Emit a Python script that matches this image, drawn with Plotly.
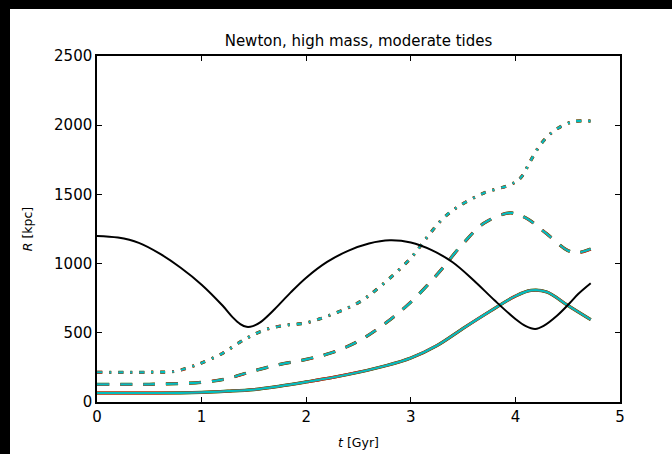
import plotly.graph_objects as go

# --- data ---
t_sep = [0, 0.2, 0.4, 0.6, 0.8, 1.0, 1.2, 1.3, 1.37, 1.43, 1.49, 1.56, 1.7, 1.85, 2.0, 2.2, 2.4, 2.6, 2.8,
         3.0, 3.2, 3.4, 3.6, 3.8, 4.0, 4.1, 4.19, 4.27, 4.4, 4.52, 4.6, 4.72]
R_sep = [1200, 1188, 1150, 1072, 970, 848, 697, 610, 563, 543, 548, 575, 672, 790, 898, 1012, 1092, 1145, 1168,
         1152, 1097, 1010, 880, 735, 600, 548, 528, 550, 625, 715, 780, 858]

t_solid = [0, 0.5, 1.0, 1.25, 1.5, 1.75, 2.0, 2.25, 2.5, 2.75, 3.0, 3.25, 3.5, 3.75, 4.0, 4.15, 4.3, 4.5, 4.72]
R_solid = [65, 65, 70, 78, 90, 115, 145, 177, 215, 260, 318, 408, 532, 652, 765, 806, 795, 698, 595]

t_dash = [0, 0.5, 1.0, 1.25, 1.5, 1.75, 2.0, 2.25, 2.5, 2.75, 3.0, 3.25, 3.5, 3.7, 3.95, 4.1, 4.3, 4.5, 4.6, 4.72]
R_dash = [128, 128, 142, 170, 225, 272, 308, 358, 440, 565, 722, 920, 1145, 1292, 1366, 1330, 1215, 1095, 1080, 1105]

t_dot = [0, 0.5, 0.75, 0.9, 1.0, 1.2, 1.4, 1.6, 1.8, 2.0, 2.2, 2.5, 2.7, 3.0, 3.15, 3.3, 3.45, 3.7,
         3.95, 4.05, 4.15, 4.25, 4.38, 4.55, 4.72]
R_dot = [215, 215, 222, 255, 282, 352, 448, 520, 555, 572, 620, 718, 830, 1040, 1185, 1320, 1410, 1510,
         1570, 1620, 1750, 1870, 1965, 2025, 2030]

x_ticks = [0, 1, 2, 3, 4, 5]
y_ticks = [0, 500, 1000, 1500, 2000, 2500]

fig = go.Figure()

styles = [("#008000", 3.2), ("#ff0000", 2.8), ("#00bfbf", 2.2)]
series = [(t_solid, R_solid, "solid"), (t_dash, R_dash, "12px,11px"), (t_dot, R_dot, "5px,7px,2px,7px")]
for tt, rr, dash in series:
    for col, w in styles:
        fig.add_trace(go.Scatter(x=tt, y=rr, mode="lines", showlegend=False,
                                 line=dict(color=col, width=w, dash=dash, shape="spline", smoothing=1.0)))

fig.add_trace(go.Scatter(x=t_sep, y=R_sep, mode="lines", showlegend=False,
                         line=dict(color="black", width=2, shape="spline", smoothing=1.0)))

W, H = 672, 454
L, R, T, B = 97, 52, 56, 52
pw, ph = W - L - R, H - T - B


def px_x(p):
    return (p - L) / pw


def px_y(p):
    return (H - B - p) / ph


axis_common = dict(showline=True, linecolor="black", linewidth=1.5, mirror="ticks", ticks="inside",
                   ticklen=5, tickcolor="black", showgrid=False, zeroline=False,
                   tickfont=dict(family="DejaVu Sans", size=15, color="black"))

fig.update_layout(
    width=W, height=H, autosize=False,
    margin=dict(l=L, r=R, t=T, b=B, autoexpand=False),
    paper_bgcolor="white", plot_bgcolor="white",
    title=dict(text="Newton, high mass, moderate tides", x=px_x(358.5), xref="paper",
               y=1 - 41 / H, yref="container", xanchor="center", yanchor="middle",
               font=dict(family="DejaVu Sans", size=15, color="black")),
    xaxis=dict(range=[0, 5], tickvals=x_ticks, ticktext=[str(v) for v in x_ticks],
               title=dict(text="<i>t</i> [Gyr]", standoff=13,
                          font=dict(family="DejaVu Sans", size=12.5, color="black")),
               **axis_common),
    yaxis=dict(range=[0, 2500], tickvals=y_ticks, ticktext=[str(v) for v in y_ticks],
               title=dict(text="<i>R</i> [kpc]", standoff=19,
                          font=dict(family="DejaVu Sans", size=12.5, color="black")),
               **axis_common),
    shapes=[
        dict(type="rect", xref="paper", yref="paper", x0=px_x(0), x1=px_x(10), y0=px_y(H), y1=px_y(0),
             fillcolor="black", line=dict(width=0), layer="above"),
        dict(type="rect", xref="paper", yref="paper", x0=px_x(0), x1=px_x(W), y0=px_y(9), y1=px_y(0),
             fillcolor="black", line=dict(width=0), layer="above"),
    ],
)

fig.write_html("out.html")
